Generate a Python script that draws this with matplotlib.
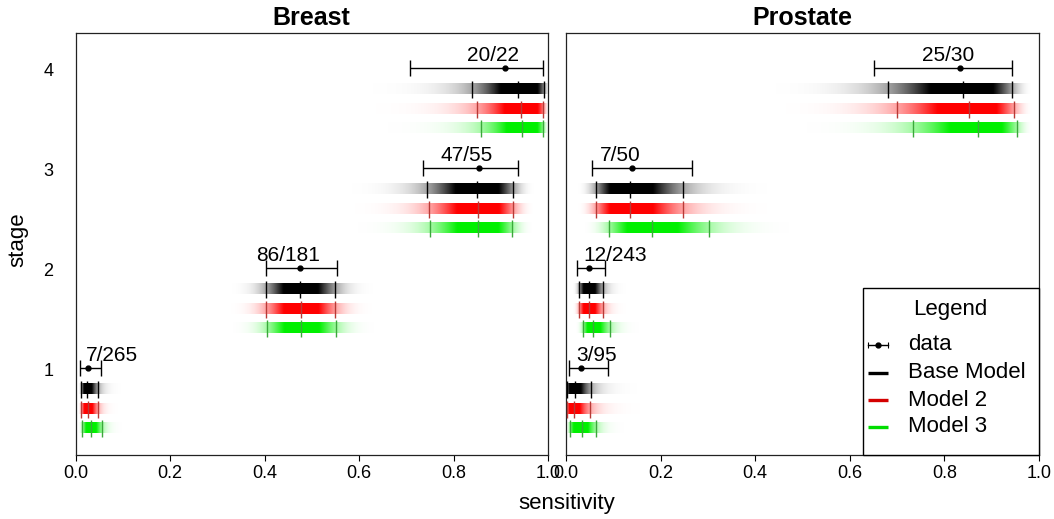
import numpy as np
import matplotlib
matplotlib.use("Agg")
import matplotlib.pyplot as plt
from matplotlib.colors import to_rgb
from matplotlib.patches import Rectangle

plt.rcParams['font.family'] = ['Liberation Sans', 'DejaVu Sans']

# ---------------- data ----------------
stages = [1, 2, 3, 4]
stage_labels = ["1", "2", "3", "4"]
panels = ["Breast", "Prostate"]
model_names = ["Base Model", "Model 2", "Model 3"]

breast_k = [7, 86, 47, 20]
breast_n = [265, 181, 55, 22]
breast_ci_lo = [0.0105, 0.403, 0.735, 0.708]
breast_ci_hi = [0.054, 0.553, 0.937, 0.989]
breast_base_lo = [0.012, 0.403, 0.744, 0.839]
breast_base_med = [0.024, 0.475, 0.850, 0.936]
breast_base_hi = [0.047, 0.549, 0.926, 0.991]
breast_m2_lo = [0.012, 0.403, 0.748, 0.849]
breast_m2_med = [0.026, 0.477, 0.852, 0.943]
breast_m2_hi = [0.047, 0.549, 0.926, 0.990]
breast_m3_lo = [0.014, 0.405, 0.750, 0.858]
breast_m3_med = [0.033, 0.477, 0.852, 0.945]
breast_m3_hi = [0.056, 0.551, 0.924, 0.989]

prostate_k = [3, 12, 7, 25]
prostate_n = [95, 243, 50, 30]
prostate_ci_lo = [0.006, 0.024, 0.056, 0.652]
prostate_ci_hi = [0.089, 0.083, 0.266, 0.943]
prostate_base_lo = [0.003, 0.028, 0.063, 0.681]
prostate_base_med = [0.019, 0.049, 0.135, 0.840]
prostate_base_hi = [0.053, 0.078, 0.247, 0.943]
prostate_m2_lo = [0.003, 0.028, 0.063, 0.700]
prostate_m2_med = [0.017, 0.049, 0.135, 0.852]
prostate_m2_hi = [0.051, 0.078, 0.247, 0.947]
prostate_m3_lo = [0.008, 0.036, 0.091, 0.734]
prostate_m3_med = [0.034, 0.057, 0.182, 0.871]
prostate_m3_hi = [0.064, 0.093, 0.302, 0.953]

xticks = [0.0, 0.2, 0.4, 0.6, 0.8, 1.0]

# ---------------- style ----------------
bar_colors = ["#000000", "#FF0000", "#00F000"]
tick_colors = ["#000000", "#B83A36", "#3AA83A"]
legend_colors = ["#000000", "#D40000", "#00DD00"]
offsets = [-0.19, -0.39, -0.58]
data_offset = 0.02
bar_h = 0.11
tick_h = 0.17

panel_data = {
    "Breast": dict(k=breast_k, n=breast_n, lo=breast_ci_lo, hi=breast_ci_hi,
                   models=[(breast_base_lo, breast_base_med, breast_base_hi),
                           (breast_m2_lo, breast_m2_med, breast_m2_hi),
                           (breast_m3_lo, breast_m3_med, breast_m3_hi)]),
    "Prostate": dict(k=prostate_k, n=prostate_n, lo=prostate_ci_lo, hi=prostate_ci_hi,
                     models=[(prostate_base_lo, prostate_base_med, prostate_base_hi),
                             (prostate_m2_lo, prostate_m2_med, prostate_m2_hi),
                             (prostate_m3_lo, prostate_m3_med, prostate_m3_hi)]),
}

W, H = 1054, 519
fig = plt.figure(figsize=(W / 100, H / 100), dpi=100)
ax_rects = [
    [75.5 / W, 1 - 455 / H, (548 - 75.5) / W, (455 - 33) / H],
    [566 / W, 1 - 455 / H, (1039 - 566) / W, (455 - 33) / H],
]

def logit(p):
    p = np.clip(p, 1e-4, 1 - 1e-4)
    return np.log(p / (1 - p))

xg = np.linspace(0.0005, 0.9995, 1500)
lg = logit(xg)

def gradient_bar(ax, y, lo, med, hi, color):
    lm, ll, lh = logit(med), logit(lo), logit(hi)
    sl = max((lm - ll) / 1.96, 1e-3)
    sh = max((lh - lm) / 1.96, 1e-3)
    z = np.where(lg < lm, (lg - lm) / sl, (lg - lm) / sh)
    a = np.clip(1.4 * np.exp(-0.5 * 0.7 * z ** 2), 0, 1)
    rgba = np.zeros((1, len(xg), 4))
    rgba[..., :3] = to_rgb(color)
    rgba[..., 3] = a
    ax.imshow(rgba, extent=(xg[0], xg[-1], y - bar_h / 2, y + bar_h / 2),
              aspect='auto', interpolation='bilinear', zorder=2)

for pi, name in enumerate(panels):
    ax = fig.add_axes(ax_rects[pi])
    d = panel_data[name]
    for si, s in enumerate(stages):
        for mi in range(3):
            lo, med, hi = (d["models"][mi][0][si], d["models"][mi][1][si],
                           d["models"][mi][2][si])
            y = s + offsets[mi]
            gradient_bar(ax, y, lo, med, hi, bar_colors[mi])
            ax.vlines([lo, med, hi], y - tick_h / 2, y + tick_h / 2,
                      colors=tick_colors[mi], lw=1.0, zorder=3)
        p = d["k"][si] / d["n"][si]
        yd = s + data_offset
        ax.errorbar([p], [yd], xerr=[[p - d["lo"][si]], [d["hi"][si] - p]],
                    fmt='o', color='black', ms=3.5, lw=1.0, capsize=5.5,
                    capthick=1.0, zorder=4)
        lab = f"{d['k'][si]}/{d['n'][si]}"
        if p - 0.026 < 0.07:
            ax.text(max(d["lo"][si], 0.01) + 0.012, s + 0.09, lab, ha='left',
                    va='baseline', fontsize=15, zorder=5)
        else:
            ax.text(p - 0.026, s + 0.09, lab, ha='center', va='baseline',
                    fontsize=15, zorder=5)

    ax.set_xlim(0, 1)
    ax.set_ylim(0.15, 4.37)
    ax.set_xticks(xticks)
    ax.set_xticklabels([f"{t:.1f}" for t in xticks])
    ax.tick_params(axis='x', labelsize=13, length=4, width=0.8, pad=3)
    if pi == 0:
        ax.set_yticks(stages)
        ax.set_yticklabels(stage_labels)
        ax.tick_params(axis='y', labelsize=13, length=0, pad=16)
    else:
        ax.set_yticks([])
    for sp in ax.spines.values():
        sp.set_linewidth(0.9)
        sp.set_color('#222222')
    fig.text((ax_rects[pi][0] + ax_rects[pi][2] / 2), 1 - 18 / H, name,
             ha='center', va='center', fontsize=18, fontweight='bold')

    if pi == 1:
        # legend box
        ax.add_patch(Rectangle((0.628, 0.15), 0.372, 1.82 - 0.15, fill=True,
                               facecolor='white', edgecolor='black', lw=1.0,
                               zorder=6, clip_on=False))
        ax.text(0.812, 1.60, "Legend", ha='center', va='center', fontsize=16,
                zorder=7)
        ys = [1.25, 0.97, 0.70, 0.43]
        ax.plot([0.638, 0.681], [ys[0], ys[0]], color='black', lw=1.0, zorder=7)
        ax.plot([0.6595], [ys[0]], 'o', color='black', ms=3.5, zorder=7)
        ax.plot([0.638, 0.681], [ys[0], ys[0]], '|', color='black', ms=4,
                mew=0.8, zorder=7)
        ax.text(0.723, ys[0], "data", ha='left', va='center', fontsize=16, zorder=7)
        for mi in range(3):
            ax.plot([0.638, 0.681], [ys[mi + 1]] * 2, color=legend_colors[mi],
                    lw=2.4, solid_capstyle='butt', zorder=7)
            ax.text(0.723, ys[mi + 1], model_names[mi], ha='left', va='center',
                    fontsize=16, zorder=7)

fig.text(567 / W, 1 - 503 / H, "sensitivity", ha='center', va='center', fontsize=16)
fig.text(18 / W, 1 - 240 / H, "stage", ha='center', va='center', fontsize=16,
         rotation=90)

fig.savefig("out.png", dpi=100)
